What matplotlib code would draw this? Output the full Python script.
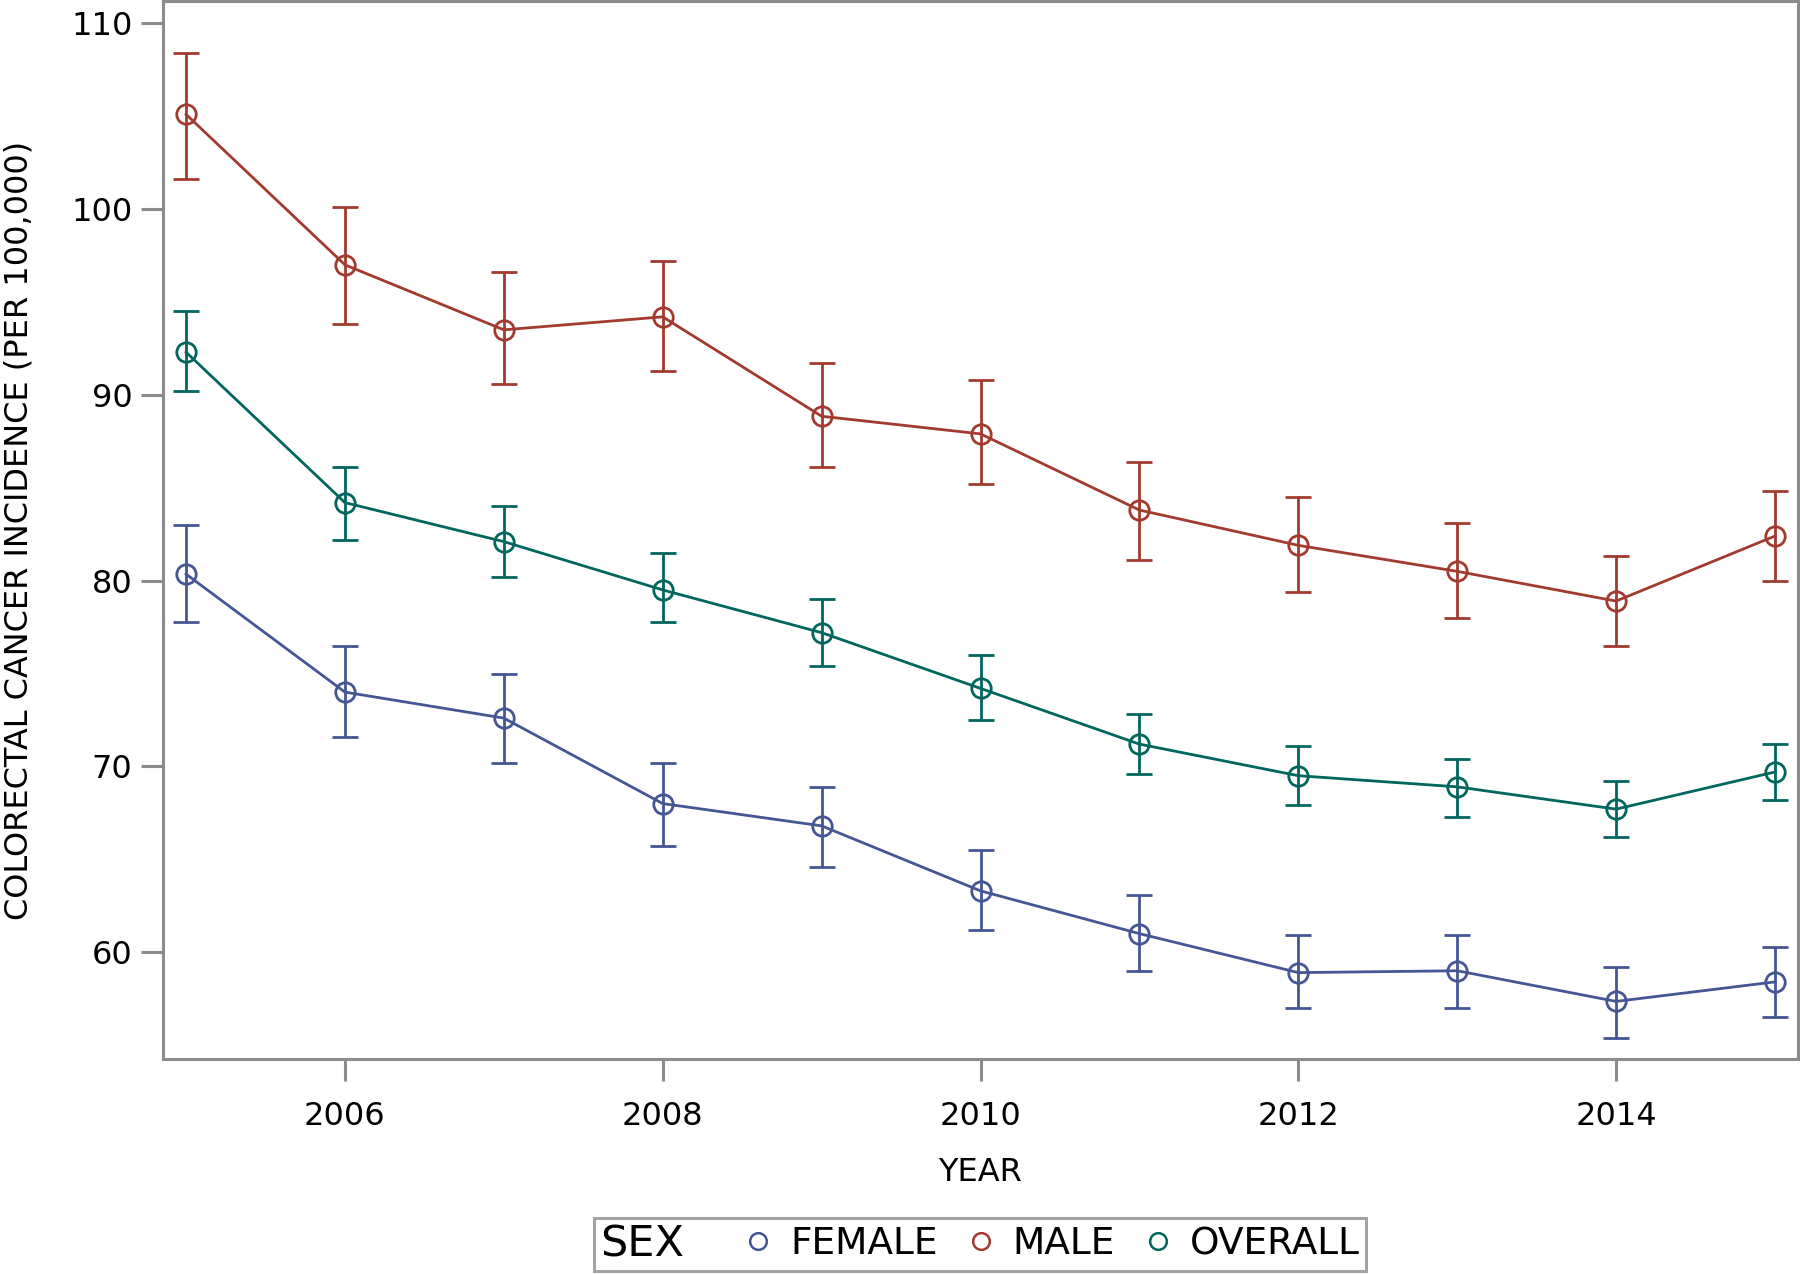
import matplotlib
matplotlib.use("Agg")
import matplotlib.pyplot as plt
from matplotlib.lines import Line2D
from matplotlib.offsetbox import HPacker

years = [2005, 2006, 2007, 2008, 2009, 2010, 2011, 2012, 2013, 2014, 2015]

female    = [80.35, 74.0, 72.6, 68.0, 66.8, 63.3, 61.0, 58.9, 59.0, 57.35, 58.4]
female_lo = [77.8, 71.6, 70.2, 65.7, 64.6, 61.2, 59.0, 57.0, 57.0, 55.4, 56.5]
female_hi = [83.0, 76.5, 75.0, 70.2, 68.9, 65.5, 63.1, 60.9, 60.95, 59.2, 60.3]

male    = [105.1, 97.0, 93.5, 94.2, 88.85, 87.9, 83.8, 81.9, 80.5, 78.9, 82.4]
male_lo = [101.6, 93.8, 90.6, 91.3, 86.1, 85.2, 81.1, 79.4, 78.0, 76.5, 80.0]
male_hi = [108.4, 100.1, 96.6, 97.2, 91.7, 90.8, 86.4, 84.5, 83.1, 81.3, 84.8]

overall    = [92.3, 84.2, 82.1, 79.5, 77.2, 74.2, 71.2, 69.5, 68.9, 67.7, 69.7]
overall_lo = [90.2, 82.2, 80.2, 77.8, 75.4, 72.5, 69.6, 67.9, 67.3, 66.2, 68.2]
overall_hi = [94.5, 86.1, 84.0, 81.5, 79.0, 76.0, 72.8, 71.1, 70.4, 69.2, 71.2]

series = [
    ("FEMALE", female, female_lo, female_hi, "#445694"),
    ("MALE", male, male_lo, male_hi, "#A23A2E"),
    ("OVERALL", overall, overall_lo, overall_hi, "#01665E"),
]

AXIS_GRAY = "#8c8c8c"

fig = plt.figure(figsize=(18, 12.74), dpi=100)
ax = fig.add_axes([163 / 1800, 1 - 1059 / 1274, (1798 - 163) / 1800, 1059 / 1274 - 0.0008])

handles = []
for name, vals, lo, hi, color in series:
    yerr = [[v - l for v, l in zip(vals, lo)], [h - v for v, h in zip(vals, hi)]]
    ax.errorbar(years, vals, yerr=yerr, color=color, linewidth=2.0,
                marker="o", markersize=14, markerfacecolor="none",
                markeredgewidth=2.0, capsize=9.5, capthick=2.0,
                elinewidth=2.0, clip_on=False, zorder=3)
    handles.append(Line2D([], [], color=color, marker="o", linestyle="none",
                          markersize=12, markerfacecolor="none",
                          markeredgewidth=1.8, label=name))

ax.set_xlim(2004.855, 2015.145)
ax.set_ylim(54.25, 111.2)
ax.set_xticks([2006, 2008, 2010, 2012, 2014])
ax.set_yticks([60, 70, 80, 90, 100, 110])

for sp in ax.spines.values():
    sp.set_color(AXIS_GRAY)
    sp.set_linewidth(2.2)
ax.tick_params(axis="both", direction="out", length=16, width=2.2,
               color=AXIS_GRAY, labelsize=23, pad=6)
ax.tick_params(axis="x", pad=14)

ax.set_xlabel("YEAR", fontsize=23, labelpad=18)
ax.set_ylabel("COLORECTAL CANCER INCIDENCE (PER 100,000)", fontsize=23, labelpad=26)

leg = ax.legend(handles=handles, loc="lower center",
                bbox_to_anchor=(980 / 1800, 3 / 1274), bbox_transform=fig.transFigure,
                ncol=3, fontsize=27, title="SEX", title_fontsize=31,
                frameon=True, fancybox=False, edgecolor=AXIS_GRAY,
                handlelength=0.7, handletextpad=0.5, columnspacing=0.8,
                borderpad=0.15, borderaxespad=0)
leg.get_frame().set_linewidth(2.2)

# put the legend title to the left of the entries instead of above them
old_box = leg._legend_box
new_box = HPacker(pad=old_box.pad, sep=44, align="center",
                  children=old_box.get_children())
new_box.set_figure(fig)
new_box.axes = ax
new_box.set_offset(leg._findoffset)
leg._legend_box = new_box

fig.savefig("out.png", dpi=100)
